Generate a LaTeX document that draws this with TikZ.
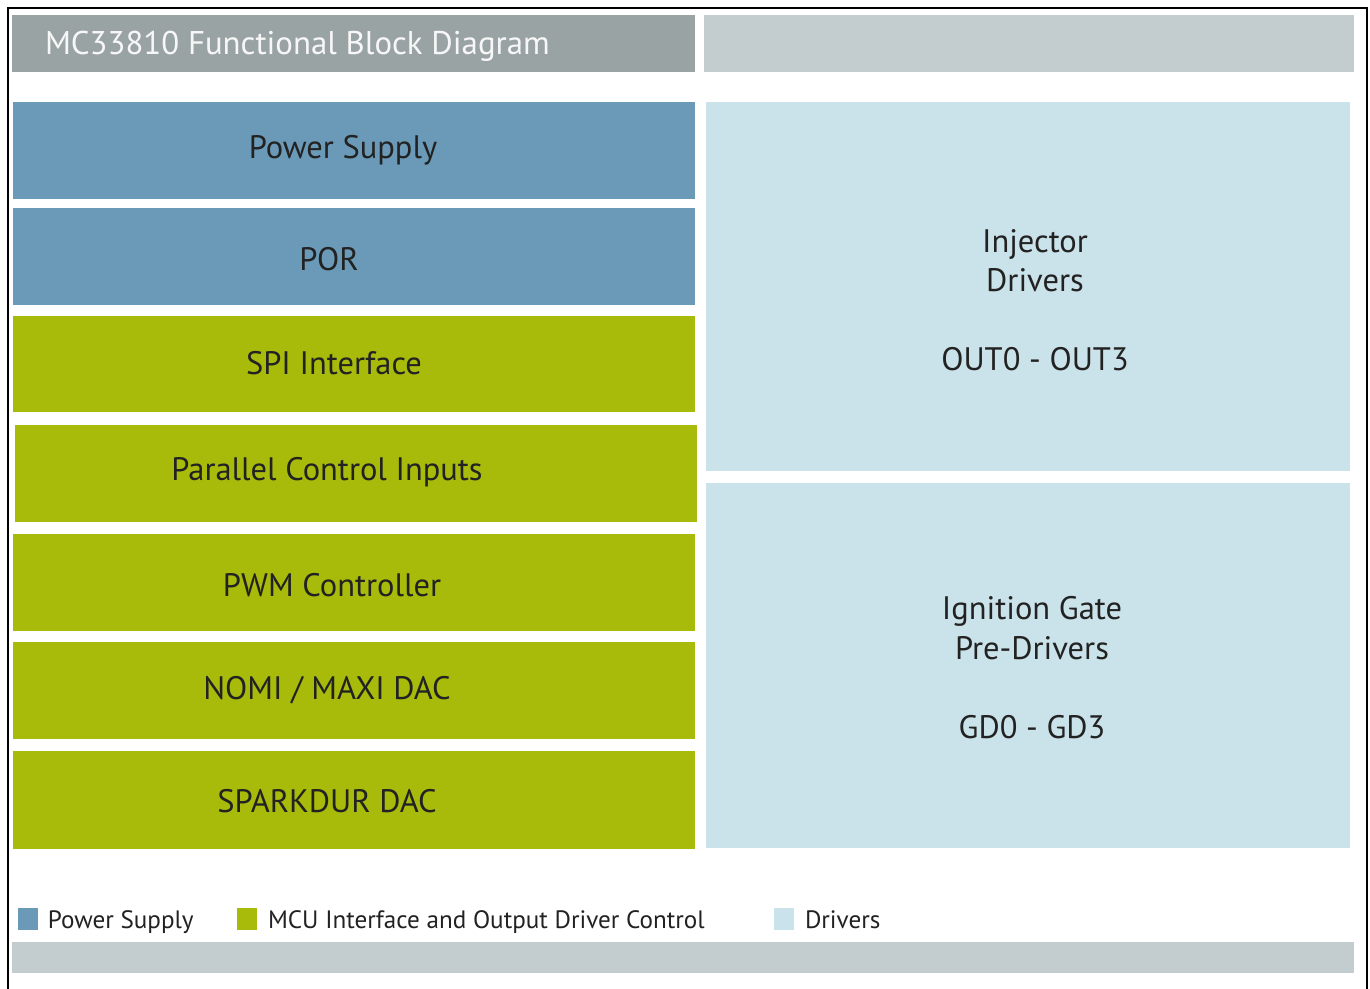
\documentclass[tikz,border=0pt]{standalone}
\usepackage{fontspec}
\setmainfont{PT Sans}
\usepackage{xcolor}
\usetikzlibrary{positioning}

\definecolor{psblue}{HTML}{6A9AB8}
\definecolor{mcugreen}{HTML}{A8BB0A}
\definecolor{drvblue}{HTML}{CAE2E9}
\definecolor{titlegray}{HTML}{9AA3A4}
\definecolor{bargray}{HTML}{C3CDCF}
\definecolor{txtgray}{HTML}{222222}

\begin{document}
\begin{tikzpicture}[x=0.02cm,y=-0.02cm,every node/.style={outer sep=0pt}]
\tikzstyle{bar}=[fill=bargray,draw=none,inner sep=0pt]
\tikzstyle{leftblk}=[draw=none,inner sep=0pt,minimum width=13.64cm,minimum height=1.94cm]
\tikzstyle{rightblk}=[fill=drvblue,draw=none,inner sep=0pt,minimum width=12.88cm]
\tikzstyle{blktxt}=[text=txtgray,font=\fontsize{18.5}{22.5}\selectfont,align=center,inner sep=0pt]
\tikzstyle{legbox}=[draw=none,inner sep=0pt,minimum width=0.4cm,minimum height=0.44cm]
\tikzstyle{legtxt}=[text=txtgray,font=\fontsize{14.3}{17}\selectfont,inner sep=0pt,anchor=base west]
\useasboundingbox (0,0) rectangle (1370,988);
\fill[white] (0,0) rectangle (1370,988);
% frame
\draw[line width=1.2pt] (8,1000) -- (8,8) -- (1367,8) -- (1367,1000);
% header
\node (title) [fill=titlegray,inner sep=0pt,minimum width=13.66cm,minimum height=1.14cm] at (353.5,43.5) {};
\node (titletxt) [anchor=west,text=white!94!gray,font=\fontsize{18.7}{22}\selectfont,inner sep=0pt] at (45,46) {MC33810 Functional Block Diagram};
\node (hdr) [bar,minimum width=13cm,minimum height=1.14cm] at (1029,43.5) {};
% left column
\node (ps) [leftblk,fill=psblue] at (354,150.5) {};
\node (por) [leftblk,fill=psblue] at (354,256.5) {};
\node (spi) [leftblk,fill=mcugreen] at (354,364) {};
\node (par) [leftblk,fill=mcugreen] at (356,473.5) {};
\node (pwm) [leftblk,fill=mcugreen] at (354,582.5) {};
\node (nomi) [leftblk,fill=mcugreen] at (354,690.5) {};
\node (spark) [leftblk,fill=mcugreen,minimum height=1.96cm] at (354,800) {};
\node (pstxt) [blktxt] at (343,150) {Power Supply};
\node (portxt) [blktxt] at (329,259) {POR};
\node (spitxt) [blktxt] at (334,363) {SPI Interface};
\node (partxt) [blktxt] at (327,472) {Parallel Control Inputs};
\node (pwmtxt) [blktxt] at (332,585) {PWM Controller};
\node (nomitxt) [blktxt] at (327,690) {NOMI / MAXI DAC};
\node (sparktxt) [blktxt] at (327,801) {SPARKDUR DAC};
% right column
\node (inj) [rightblk,minimum height=7.38cm] at (1028,286.5) {};
\node (ign) [rightblk,minimum height=7.3cm] at (1028,665.5) {};
\node (injtxt) [blktxt] at (1035,300) {Injector\\Drivers\\[22.5pt]OUT0 - OUT3};
\node (igntxt) [blktxt] at (1032,667.5) {Ignition Gate\\Pre-Drivers\\[22.5pt]GD0 - GD3};
% legend
\node (lgps) [legbox,fill=psblue] at (28,919) {};
\node (lgpstxt) [legtxt] at (48,928) {Power Supply};
\node (lgmcu) [legbox,fill=mcugreen] at (246.5,919) {};
\node (lgmcutxt) [legtxt] at (268,928) {MCU Interface and Output Driver Control};
\node (lgdrv) [legbox,fill=drvblue] at (783.5,919) {};
\node (lgdrvtxt) [legtxt] at (805,928) {Drivers};
% footer
\node (foot) [bar,minimum width=26.84cm,minimum height=0.62cm] at (683,957.5) {};
\end{tikzpicture}
\end{document}
